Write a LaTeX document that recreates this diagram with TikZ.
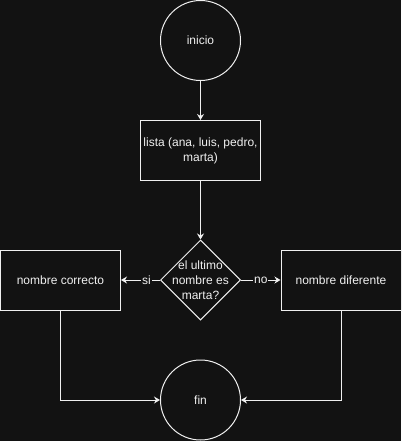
\documentclass[tikz,border=0pt]{standalone}
\usepackage{fontspec}
\setmainfont{Liberation Sans}
\usetikzlibrary{arrows.meta,positioning,shapes.geometric}
\definecolor{fondo}{HTML}{121212}
\definecolor{trazo}{HTML}{F0F0F0}

\begin{document}
\begin{tikzpicture}[x=1pt,y=1pt,on grid,line width=1pt,color=trazo,
  font=\fontsize{12}{15}\selectfont,
  >={Stealth[length=6pt,width=7pt]},
  terminal/.style={circle,draw,minimum size=80pt,inner sep=0pt},
  proceso/.style={rectangle,draw,minimum width=120pt,minimum height=60pt,align=center},
  decision/.style={diamond,draw,aspect=1,minimum size=80pt,inner sep=0pt},
  etiqueta/.style={fill=fondo,inner sep=1pt}]
  \path[use as bounding box,fill=fondo] (0,0) rectangle (401,-441);
  \path
  node[terminal] (inicio) at (200.5,-40.5) {inicio}
  node[proceso] (lista) [below=110pt of inicio] {lista (ana, luis, pedro,\\marta)}
  node[decision,label={[align=center]center:el ultimo\\nombre es\\marta?}] (cond) [below=129.5pt of lista] {}
  node[proceso] (correcto) [left=140pt of cond] {nombre correcto}
  node[proceso] (diferente) [right=140.5pt of cond] {nombre diferente}
  node[terminal] (fin) [below=120pt of cond] {fin}
  ;
  \path[->]
  (inicio) edge (lista)
  (lista) edge (cond)
  (cond) edge node[etiqueta,pos=0.35] {si} (correcto)
  (cond) edge node[etiqueta] {no} (diferente)
  ;
  \draw[->] (correcto.south) |- (fin.west);
  \draw[->] (diferente.south) |- (fin.east);
\end{tikzpicture}
\end{document}
